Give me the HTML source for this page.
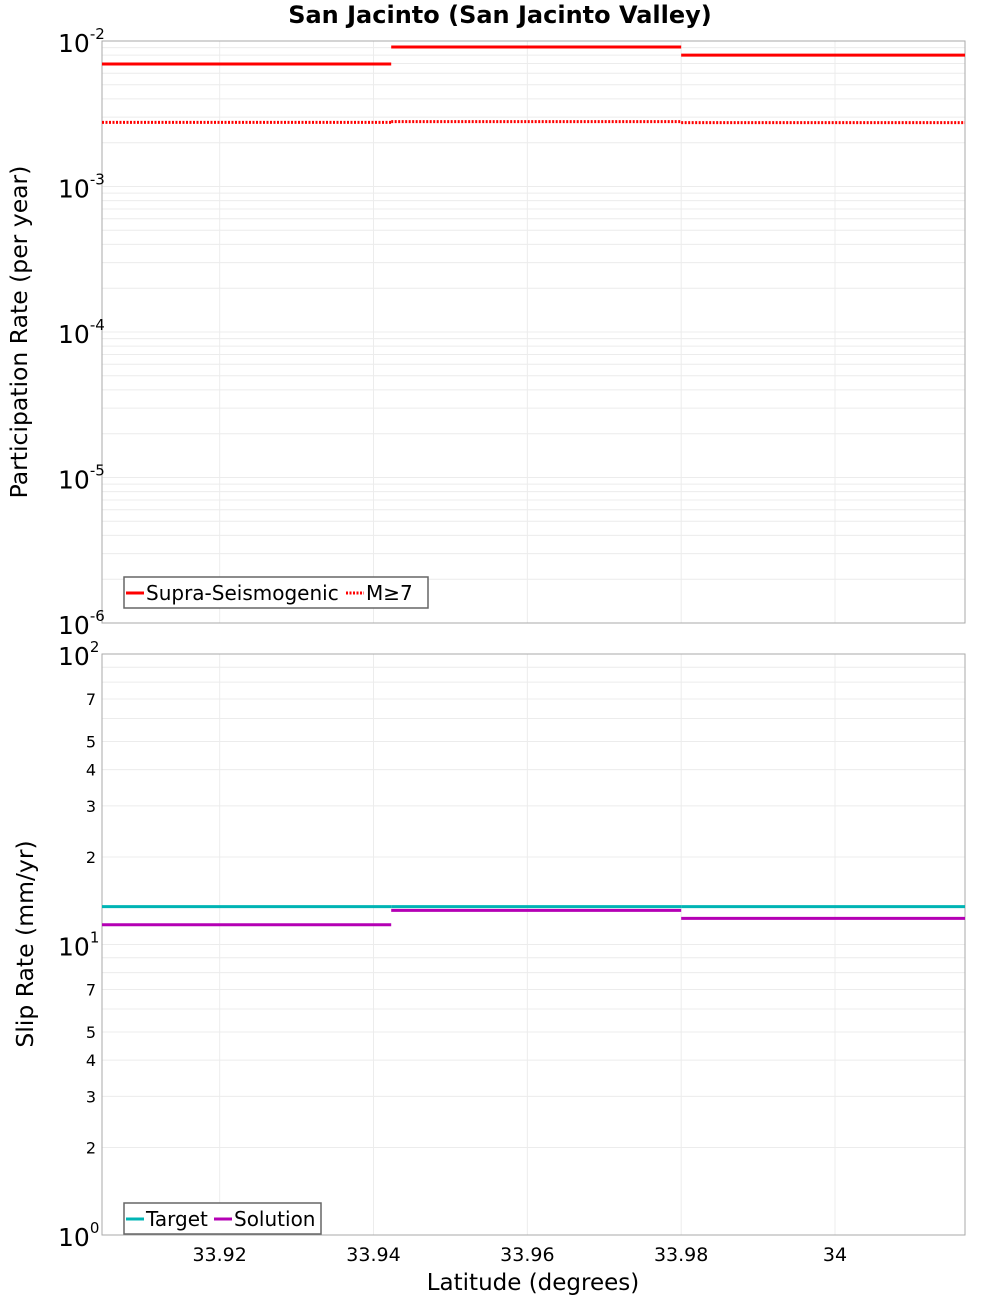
<!DOCTYPE html>
<html><head><meta charset="utf-8"><style>
body{margin:0;background:#fff;font-family:"DejaVu Sans","Liberation Sans",sans-serif}
</style></head><body>
<svg id="c" width="1000" height="1300" xmlns="http://www.w3.org/2000/svg" font-family="DejaVu Sans, Liberation Sans, sans-serif"></svg>
<script>
const edges=[33.9047,33.9423,33.98,34.0169];
const supraRates=[0.00695,0.0091,0.0080];
const m7Rates=[0.00276,0.00279,0.00275];
const targetSlip=[13.5,13.5,13.5];
const solutionSlip=[11.7,13.1,12.3];
const xTicks=[33.92,33.94,33.96,33.98,34];
const xTickLabels=["33.92","33.94","33.96","33.98","34"];
const topExps=[-2,-3,-4,-5,-6];
const botMinor=[2,3,4,5,7];

const NS="http://www.w3.org/2000/svg",svg=document.getElementById('c');
const L=102,R=965;
const T1=41,B1=623,T2=654,B2=1235;
const xs=v=>L+(v-edges[0])/(edges[3]-edges[0])*(R-L);
const yTop=v=>T1+(-2-Math.log10(v))/4*(B1-T1);
const yBot=v=>T2+(2-Math.log10(v))/2*(B2-T2);
function mk(tag,at,txt){const e=document.createElementNS(NS,tag);for(const k in at)e.setAttribute(k,at[k]);if(txt!=null)e.textContent=txt;svg.appendChild(e);return e;}

function grid(T,B,yf,decLo,decHi){
 for(let d=decLo;d<decHi;d++)for(let m=1;m<10;m++){const y=yf(m*Math.pow(10,d));
  const g=mk('line',{x1:L,x2:R,y1:y,y2:y,stroke:'#ececec','stroke-width':1});
  }
 xTicks.forEach(v=>{const g=mk('line',{x1:xs(v),x2:xs(v),y1:T,y2:B,stroke:'#ececec'});
  });
}
grid(T1,B1,yTop,-6,-2);
grid(T2,B2,yBot,0,2);
let f=mk('rect',{x:L,y:T1,width:R-L,height:B1-T1,fill:'none',stroke:'#aaa'});

f=mk('rect',{x:L,y:T2,width:R-L,height:B2-T2,fill:'none',stroke:'#aaa'});


function steps(arr,yf,color,dash,name){
 arr.forEach((v,i)=>{const l=mk('line',{x1:xs(edges[i]),x2:xs(edges[i+1]),y1:yf(v),y2:yf(v),stroke:color,'stroke-width':3});
  if(dash)l.setAttribute('stroke-dasharray','2,1.5');
  });
}
steps(supraRates,yTop,'#f00',false,'supra-seismogenic');
steps(m7Rates,yTop,'#f00',true,'m7');
steps(targetSlip,yBot,'#00b4b4',false,'target');
steps(solutionSlip,yBot,'#b400b4',false,'solution');

topExps.forEach(e=>{const y=yTop(Math.pow(10,e));
 const t=mk('text',{x:58,y:y+11,'font-size':25,fill:'#000'});
 t.innerHTML='10<tspan dy="-13" font-size="15">'+e+'</tspan>';
 });
[[100,'2'],[10,'1'],[1,'0']].forEach(([v,e])=>{const y=yBot(v);
 const t=mk('text',{x:58,y:y+11,'font-size':25,fill:'#000'});
 t.innerHTML='10<tspan dy="-13" font-size="15">'+e+'</tspan>';
 });
[1,10].forEach(d=>botMinor.forEach(m=>{const t=mk('text',{x:96,y:yBot(m*d)+6,'font-size':16,'text-anchor':'end',fill:'#000'},String(m));
 }));
xTicks.forEach((v,i)=>{const t=mk('text',{x:xs(v),y:1261,'font-size':19,'text-anchor':'middle',fill:'#000'},xTickLabels[i]);
 });
let t=mk('text',{x:533,y:1290,'font-size':23,'text-anchor':'middle'},'Latitude (degrees)');

t=mk('text',{x:0,y:0,'font-size':23.5,'text-anchor':'middle',transform:'translate(27,332) rotate(-90)'},'Participation Rate (per year)');

t=mk('text',{x:0,y:0,'font-size':23.5,'text-anchor':'middle',transform:'translate(33,944) rotate(-90)'},'Slip Rate (mm/yr)');

t=mk('text',{x:500,y:23,'font-size':24,'font-weight':'bold','text-anchor':'middle'},'San Jacinto (San Jacinto Valley)');


function legend(x,y,w,items,name){
 const r=mk('rect',{x:x,y:y,width:w,height:31,fill:'#fff',stroke:'#666','stroke-width':1.5});
 
 items.forEach(it=>{const l=mk('line',{x1:it.x,x2:it.x+18,y1:y+16,y2:y+16,stroke:it.c,'stroke-width':3});
  if(it.d)l.setAttribute('stroke-dasharray','2,1.5');
  
  const tx=mk('text',{x:it.x+20,y:y+23,'font-size':20},it.t);
  });
}
legend(124,577,304,[{x:126,c:'#f00',t:'Supra-Seismogenic'},{x:346,c:'#f00',d:true,t:'M≥7'}],'top-legend');
legend(124,1203,197,[{x:126,c:'#00b4b4',t:'Target'},{x:214,c:'#b400b4',t:'Solution'}],'bottom-legend');
</script>
</body></html>
